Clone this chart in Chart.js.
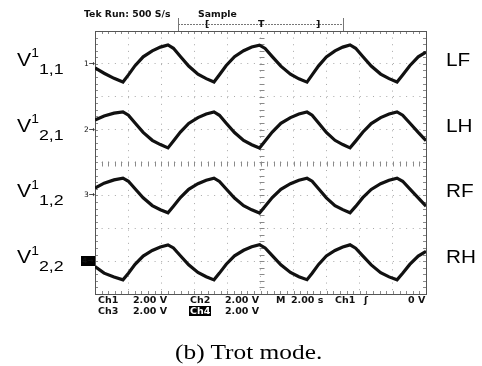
<!DOCTYPE html>
<html>
<head>
<meta charset="utf-8">
<script src="https://cdn.jsdelivr.net/npm/chart.js@4.4.1/dist/chart.umd.min.js"></script>
<style>
  body { margin: 0; background: #fff; }
  #wrap { position: relative; width: 482px; height: 366px; overflow: hidden; }
  #scope { position: absolute; left: 0; top: 0; }
  .txt { position: absolute; white-space: nowrap; line-height: 1; }
  .tek { font-family: "DejaVu Sans", sans-serif; font-size: 9.3px; font-weight: bold; color: #111; }
  .rd { font-family: "DejaVu Sans", sans-serif; font-size: 9.5px; font-weight: bold; color: #111; }
  .inv { background: #000; color: #fff; padding: 0 1px; }
  .mk.inv { padding: 1px 1px; font-weight: bold; }
  .vl { font-family: "Liberation Sans", Arial, sans-serif; font-size: 18.5px; color: #000;
        transform: scaleX(1.15); transform-origin: left top; }
  .vl .sp { font-size: 12px; position: relative; top: -8.5px; }
  .vl .sb { font-size: 15.5px; position: relative; top: 8px; }
  .leg { font-family: "Liberation Sans", Arial, sans-serif; font-size: 18px; color: #000;
         transform: scaleX(1.15); transform-origin: left top; }
  .mk { font-family: "DejaVu Sans", sans-serif; font-size: 7.5px; color: #111; }
  .cap { font-family: "Liberation Serif", "Times New Roman", serif; font-size: 21.5px; color: #000;
         transform: scaleX(1.18); transform-origin: left top; }
</style>
</head>
<body>
<div id="wrap">
  <canvas id="scope" width="482" height="366"></canvas>
</div>
<script>
// time of each sample (s), trigger at 0, 2.00 s/div
var times = [-10, -9.45, -8.85, -8.31, -7.98, -7.58, -7.09, -6.54, -6.05, -5.59,
  -5.26, -4.84, -4.34, -3.78, -3.28, -2.81, -2.48, -2.07, -1.57, -1.02, -0.53, -0.06,
  0.28, 0.71, 1.23, 1.81, 2.32, 2.81, 3.12, 3.51, 3.98, 4.50, 4.97, 5.41,
  5.75, 6.18, 6.69, 7.26, 7.77, 8.25, 8.59, 9.02, 9.53, 10];

// channel readings in volts (2.00 V/div)
var ch1 = [-0.25, -0.57, -0.88, -1.10,
  -0.67, -0.11, 0.43, 0.79, 1.02, 1.15,
  0.95, 0.45, -0.13, -0.63, -0.90, -1.10,
  -0.66, -0.10, 0.44, 0.80, 1.03, 1.14,
  0.94, 0.44, -0.14, -0.63, -0.91, -1.11,
  -0.67, -0.12, 0.42, 0.79, 1.02, 1.15,
  0.95, 0.45, -0.13, -0.62, -0.90, -1.10,
  -0.67, -0.11, 0.43, 0.72];
var ch2 = [0.59, 0.83, 1.00, 1.08,
  0.88, 0.40, -0.17, -0.65, -0.91, -1.11,
  -0.69, -0.15, 0.38, 0.73, 0.95, 1.08,
  0.87, 0.39, -0.18, -0.66, -0.92, -1.12,
  -0.69, -0.15, 0.38, 0.73, 0.95, 1.07,
  0.88, 0.40, -0.17, -0.65, -0.91, -1.11,
  -0.70, -0.16, 0.37, 0.73, 0.95, 1.08,
  0.88, 0.40, -0.17, -0.67];
var ch3 = [0.44, 0.74, 0.94, 1.05,
  0.86, 0.40, -0.15, -0.62, -0.87, -1.06,
  -0.66, -0.13, 0.37, 0.71, 0.92, 1.05,
  0.85, 0.39, -0.16, -0.63, -0.88, -1.07,
  -0.66, -0.13, 0.37, 0.71, 0.92, 1.04,
  0.86, 0.40, -0.15, -0.62, -0.87, -1.06,
  -0.67, -0.14, 0.36, 0.71, 0.92, 1.05,
  0.86, 0.40, -0.15, -0.66];
var ch4 = [-0.33, -0.73, -0.97, -1.14,
  -0.74, -0.20, 0.31, 0.65, 0.86, 0.99,
  0.80, 0.33, -0.22, -0.69, -0.95, -1.14,
  -0.73, -0.19, 0.32, 0.66, 0.87, 1.00,
  0.80, 0.33, -0.22, -0.69, -0.95, -1.13,
  -0.74, -0.20, 0.31, 0.65, 0.86, 0.99,
  0.79, 0.32, -0.23, -0.70, -0.96, -1.14,
  -0.74, -0.20, 0.31, 0.60];

var channels = [ch1, ch2, ch3, ch4];
var channelNames = ['1', '2', '3', '4'];
var channelOffsets = [6, 2, -2, -6];   // screen position of each ground, volts
var leftLabels = [['1', '1,1'], ['1', '2,1'], ['1', '1,2'], ['1', '2,2']];
var rightLabels = ['LF', 'LH', 'RF', 'RH'];

var headerText = 'Tek Run: 500 S/s';
var modeText = 'Sample';
var readoutRow1 = [['Ch1', '2.00 V'], ['Ch2', '2.00 V']];
var readoutRow2 = [['Ch3', '2.00 V'], ['Ch4', '2.00 V']];
var timebaseText = '2.00 s';
var triggerLevel = '0 V';
var captionText = '(b) Trot mode.';

// oscilloscope graticule: frame, edge ticks and crosshair ticks every 1/5 div
var graticule = {
    id: 'graticule',
    beforeDatasetsDraw: function (chart) {
        var ctx = chart.ctx, a = chart.chartArea;
        var x = chart.scales.x, y = chart.scales.y;
        var cx = Math.round(x.getPixelForValue(0)) + 0.5;
        var cy = Math.round(y.getPixelForValue(0)) + 0.5;
        ctx.save();
        ctx.strokeStyle = '#8a8a8a';
        ctx.lineWidth = 1;
        ctx.beginPath();
        for (var t = -10; t <= 10.001; t += 0.4) {
            var px = Math.round(x.getPixelForValue(t)) + 0.5;
            ctx.moveTo(px, cy - 2); ctx.lineTo(px, cy + 3);
            ctx.moveTo(px, a.top); ctx.lineTo(px, a.top + 3);
            ctx.moveTo(px, a.bottom); ctx.lineTo(px, a.bottom - 3);
        }
        for (var v = -8; v <= 8.001; v += 0.4) {
            var py = Math.round(y.getPixelForValue(v)) + 0.5;
            ctx.moveTo(cx - 2, py); ctx.lineTo(cx + 3, py);
            ctx.moveTo(a.left, py); ctx.lineTo(a.left + 3, py);
            ctx.moveTo(a.right, py); ctx.lineTo(a.right - 3, py);
        }
        ctx.stroke();
        ctx.strokeStyle = '#555';
        ctx.strokeRect(Math.round(a.left) + 0.5, Math.round(a.top) + 0.5,
            Math.round(a.right - a.left), Math.round(a.bottom - a.top));

        // record window bracket above the screen
        ctx.strokeStyle = '#777';
        ctx.setLineDash([2, 1]);
        ctx.beginPath();
        ctx.moveTo(178, 24.5); ctx.lineTo(343, 24.5);
        ctx.stroke();
        ctx.setLineDash([]);
        ctx.beginPath();
        ctx.moveTo(178.5, 18); ctx.lineTo(178.5, 31);
        ctx.moveTo(343.5, 18); ctx.lineTo(343.5, 31);
        ctx.stroke();
        ctx.restore();
    }
};

var datasets = channels.map(function (vals, i) {
    return {
        label: 'Ch' + channelNames[i],
        data: vals.map(function (v, j) {
            return { x: times[j], y: v + channelOffsets[i] };
        }),
        borderColor: '#111',
        borderWidth: 3.2,
        pointRadius: 0,
        tension: 0,
        fill: false
    };
});

var chart = new Chart(document.getElementById('scope').getContext('2d'), {
    type: 'line',
    data: { datasets: datasets },
    options: {
        responsive: false,
        animation: false,
        layout: { padding: { left: 95, right: 56, top: 31, bottom: 72 } },
        plugins: { legend: { display: false }, tooltip: { enabled: false } },
        scales: {
            x: {
                type: 'linear', min: -10, max: 10,
                ticks: { display: false, stepSize: 2 },
                grid: { color: '#a8a8a8', drawTicks: false },
                border: { display: false, dash: [1, 5.62] }
            },
            y: {
                type: 'linear', min: -8, max: 8,
                ticks: { display: false, stepSize: 2 },
                grid: { color: '#a8a8a8', drawTicks: false },
                border: { display: false, dash: [1, 5.62] }
            }
        }
    },
    plugins: [graticule]
});

// text around the screen, placed from the chart's own scales
var wrap = document.getElementById('wrap');
function addText(cls, html, left, top) {
    var d = document.createElement('div');
    d.className = 'txt ' + cls;
    d.innerHTML = html;
    d.style.left = left + 'px';
    d.style.top = top + 'px';
    wrap.appendChild(d);
    return d;
}

var area = chart.chartArea;
var ys = chart.scales.y, xs = chart.scales.x;

addText('tek', headerText, 84, 8.5);
addText('tek', modeText, 198, 8.5);
addText('rd', '[', 205, 19);
addText('rd', 'T', Math.round(xs.getPixelForValue(0)) - 3, 19);
addText('rd', ']', 316, 19);

channelOffsets.forEach(function (off, i) {
    var gy = ys.getPixelForValue(off);
    addText('vl', 'V<span class="sp">' + leftLabels[i][0] + '</span><span class="sb">' +
        leftLabels[i][1] + '</span>', 17, gy - 13);
    addText('leg', rightLabels[i], 446, gy - 13);
    var m = addText('mk' + (i === 3 ? ' inv' : ''), channelNames[i] + '&#8594;', 0, gy - (i === 3 ? 5 : 4));
    m.style.left = (area.left - m.offsetWidth) + 'px';
});

var r1 = area.bottom + 1, r2 = area.bottom + 12;
addText('rd', readoutRow1[0][0], 98, r1);
addText('rd', readoutRow1[0][1], 133, r1);
addText('rd', readoutRow1[1][0], 190, r1);
addText('rd', readoutRow1[1][1], 225, r1);
addText('rd', 'M', 276, r1);
addText('rd', timebaseText, 291, r1);
addText('rd', 'Ch1', 335, r1);
addText('rd', '&#643;', 364, r1);
var tl = addText('rd', triggerLevel, 0, r1);
tl.style.left = (area.right - 1 - tl.offsetWidth) + 'px';
addText('rd', readoutRow2[0][0], 98, r2);
addText('rd', readoutRow2[0][1], 133, r2);
addText('rd inv', readoutRow2[1][0], 189, r2);
addText('rd', readoutRow2[1][1], 225, r2);

addText('cap', captionText, 175, 342);
</script>
</body>
</html>
